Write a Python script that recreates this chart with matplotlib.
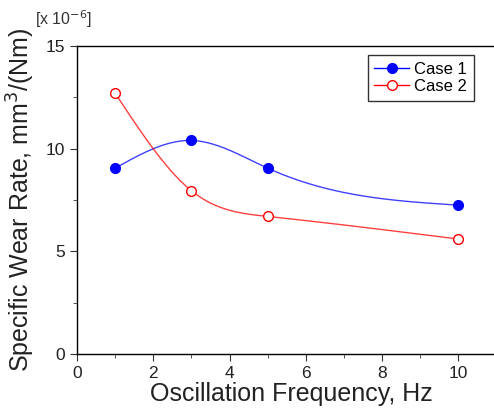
import numpy as np
import matplotlib
matplotlib.use("Agg")
import matplotlib.pyplot as plt
from matplotlib.ticker import MultipleLocator

plt.rcParams['font.family'] = ['Liberation Sans', 'DejaVu Sans']

freq = [1, 3, 5, 10]
case1 = [9.05, 10.4, 9.05, 7.25]
case2 = [12.7, 7.95, 6.7, 5.6]


def natural_spline(x, y, n=200):
    # natural cubic spline, just for the smooth connecting line
    x = np.asarray(x, float)
    y = np.asarray(y, float)
    k = len(x)
    h = np.diff(x)
    A = np.zeros((k, k))
    b = np.zeros(k)
    A[0, 0] = 1
    A[-1, -1] = 1
    for i in range(1, k - 1):
        A[i, i - 1] = h[i - 1]
        A[i, i] = 2 * (h[i - 1] + h[i])
        A[i, i + 1] = h[i]
        b[i] = 3 * ((y[i + 1] - y[i]) / h[i] - (y[i] - y[i - 1]) / h[i - 1])
    c = np.linalg.solve(A, b)
    xs = np.linspace(x[0], x[-1], n)
    ys = np.empty_like(xs)
    for j, xv in enumerate(xs):
        i = min(np.searchsorted(x, xv, side='right') - 1, k - 2)
        d = xv - x[i]
        bi = (y[i + 1] - y[i]) / h[i] - h[i] * (2 * c[i] + c[i + 1]) / 3
        di = (c[i + 1] - c[i]) / (3 * h[i])
        ys[j] = y[i] + bi * d + c[i] * d ** 2 + di * d ** 3
    return xs, ys


fig = plt.figure(figsize=(4.94, 4.11), dpi=100)
ax = fig.add_axes([77 / 494, 57 / 411, 428 / 494, 308 / 411])

xs, ys = natural_spline(freq, case1)
ax.plot(xs, ys, color='#0000ff', lw=1, alpha=0.75)
ax.plot(freq, case1, 'o', color='#0000ff', ms=7, mec='#0000ff')
xs, ys = natural_spline(freq, case2)
ax.plot(xs, ys, color='#ff0000', lw=1, alpha=0.75)
ax.plot(freq, case2, 'o', color='#ff0000', ms=7, mfc='white', mec='#ff0000')

h1, = ax.plot([], [], '-o', color='#0000ff', lw=1, ms=7, label='Case 1')
h2, = ax.plot([], [], '-o', color='#ff0000', lw=1, ms=7, mfc='white', label='Case 2')
leg = ax.legend(handles=[h1, h2], loc='upper right', bbox_to_anchor=(397 / 428, 0.971),
                fontsize=12, frameon=True, fancybox=False, borderpad=0.4,
                handlelength=2.1, labelspacing=0.15, handletextpad=0.3,
                borderaxespad=0)
leg.get_frame().set_edgecolor('black')
leg.get_frame().set_linewidth(1)

ax.set_xlim(0, 428 / 38.13)
ax.set_ylim(0, 15)
ax.xaxis.set_major_locator(MultipleLocator(2))
ax.xaxis.set_minor_locator(MultipleLocator(1))
ax.yaxis.set_major_locator(MultipleLocator(5))
ax.yaxis.set_minor_locator(MultipleLocator(2.5))
ax.tick_params(which='major', length=5, labelsize=12.5, color='#333333', labelcolor='#222222')
ax.tick_params(which='minor', length=3, color='#333333')
for s in ax.spines.values():
    s.set_linewidth(1)

ax.set_xlabel('Oscillation Frequency, Hz', fontsize=18, labelpad=1, color='#222222')
ax.set_ylabel('Specific Wear Rate, mm$^3$/(Nm)', fontsize=18, labelpad=6, color='#222222')
fig.text(35 / 494, 1 - 19 / 411, '[x 10$^{-6}$]', fontsize=11.5, va='center', ha='left',
         color='#333333')

fig.savefig('out.png', dpi=100)
